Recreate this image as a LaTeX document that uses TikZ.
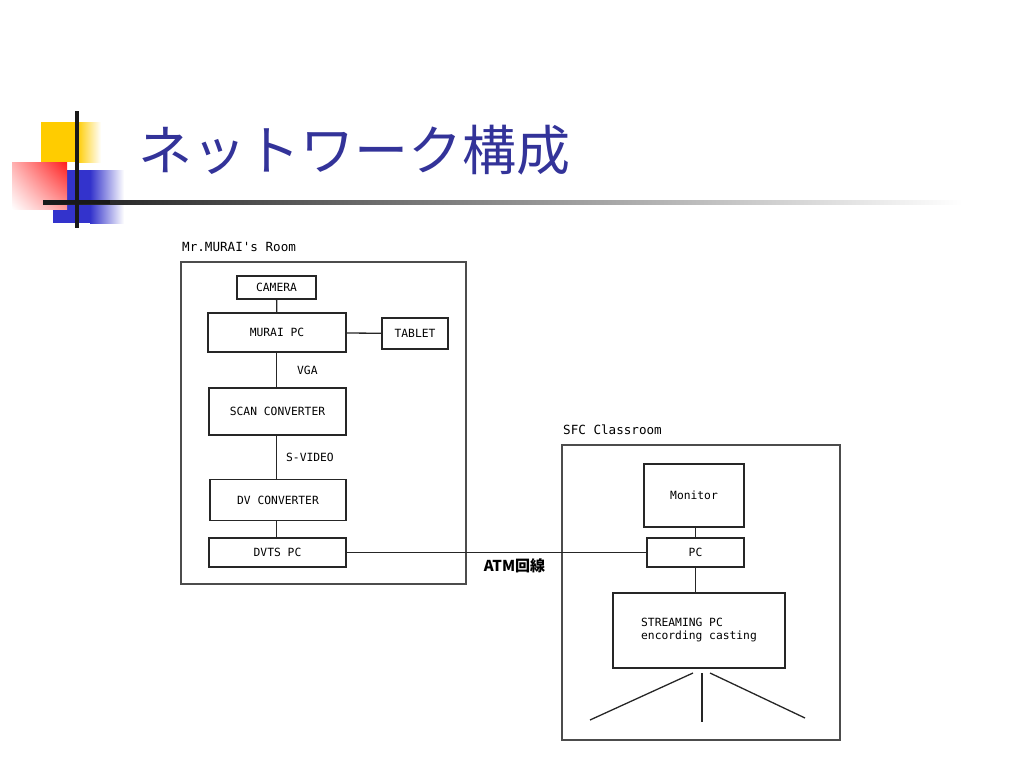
\documentclass[tikz,border=0pt]{standalone}
\usepackage{fontspec}
\setmonofont{DejaVu Sans Mono}
\newfontfamily\cjk{Noto Sans CJK JP}
\usetikzlibrary{calc}
\usetikzlibrary{shadings}
\definecolor{titleblue}{RGB}{51,51,153}
\definecolor{decoyellow}{RGB}{255,204,0}
\definecolor{decoblue}{RGB}{51,51,204}
\definecolor{decored}{RGB}{255,30,30}

\tikzset{
  unit/.style={draw=black!85, line width=1.3pt, font=\ttfamily\fontsize{11.3}{13}\selectfont, inner sep=0pt},
  room/.style={draw=black!70, line width=1.4pt, inner sep=0pt},
  wire/.style={draw=black!85, line width=1.3pt},
  tag/.style={font=\ttfamily\fontsize{11.3}{13}\selectfont, inner sep=0pt},
  roomtag/.style={font=\ttfamily\fontsize{12.6}{14}\selectfont, inner sep=0pt}
}

\begin{document}
\begin{tikzpicture}[x=1pt, y=-1pt]

\useasboundingbox (0,0) rectangle (1024,768);

% title decoration
\fill[decoyellow] (41,122) rectangle (77,162);
\shade[left color=decoyellow, right color=white] (77,122) rectangle (101,162);
\fill[decoblue] (53,170) rectangle (90,223);
\shade[left color=decoblue, right color=white] (90,170) rectangle (124,223);
\shade[lower left=white, upper right=decored, lower right=decored!45, upper left=decored!35] (12,162) rectangle (67,209);
\shade[left color=black!90, right color=white] (43,200) rectangle (962,204);
\fill[black!90] (43,200) rectangle (110,204);
\fill[black!90] (74.5,111) rectangle (78.5,228);

\node[anchor=base west, inner sep=0pt, text=titleblue, font=\cjk\fontsize{54}{60}\selectfont] (title) at (138,170) {ネットワーク構成};

% Mr. MURAI's room
\node[room, minimum width=285, minimum height=322] (murai) at (323.5,423) {};
\node[roomtag, anchor=base west] (muraitag) at (182,251) {Mr.MURAI's Room};

\node[unit, minimum width=79, minimum height=23] (camera) at (276.5,287.5) {CAMERA};
\node[unit, minimum width=138, minimum height=39] (muraipc) at (277,332.5) {MURAI PC};
\node[unit, minimum width=66, minimum height=31] (tablet) at (415,333.5) {TABLET};
\node[unit, minimum width=137, minimum height=47] (scan) at (277.5,411.5) {SCAN CONVERTER};
\node[unit, minimum width=136, minimum height=41] (dv) at (278,500) {DV CONVERTER};
\node[unit, minimum width=137, minimum height=29] (dvts) at (277.5,552.5) {DVTS PC};

\draw[wire] (camera) -- (muraipc);
\draw[wire] (muraipc) -- (tablet);
\draw[wire] (muraipc.south -| camera) -- (scan.north -| camera) node[tag, midway, right=20pt] (vga) {VGA};
\draw[wire] (scan.south -| camera) -- (dv.north -| camera) node[tag, midway, right=9pt] (svideo) {S-VIDEO};
\draw[wire] (dv.south -| camera) -- (dvts.north -| camera);

% SFC classroom
\node[room, minimum width=278, minimum height=295] (sfc) at (701,592.5) {};
\node[roomtag, anchor=base west] (sfctag) at (563,434) {SFC Classroom};

\node[unit, minimum width=100, minimum height=63] (monitor) at (694,495.5) {Monitor};
\node[unit, minimum width=97, minimum height=29] (pc) at (695.5,552.5) {PC};
\node[unit, minimum width=172, minimum height=75, align=left] (stream) at (699,630.5) {STREAMING PC\\encording casting};

\draw[wire] (monitor.south -| pc) -- (pc);
\draw[wire] (pc) -- (stream.north -| pc);

\coordinate (fanl) at (693,673);
\coordinate (fanm) at (702,673);
\coordinate (fanr) at (710,673);
\draw[wire] (fanl) -- (590,720);
\draw[wire] (fanm) -- (702,722);
\draw[wire] (fanr) -- (805,718);

% ATM link
\draw[wire] (dvts) -- (pc) node[pos=0.56, below=5pt, inner sep=0pt, font=\cjk\bfseries\fontsize{15}{16}\selectfont] (atm) {ATM回線};

\end{tikzpicture}
\end{document}
